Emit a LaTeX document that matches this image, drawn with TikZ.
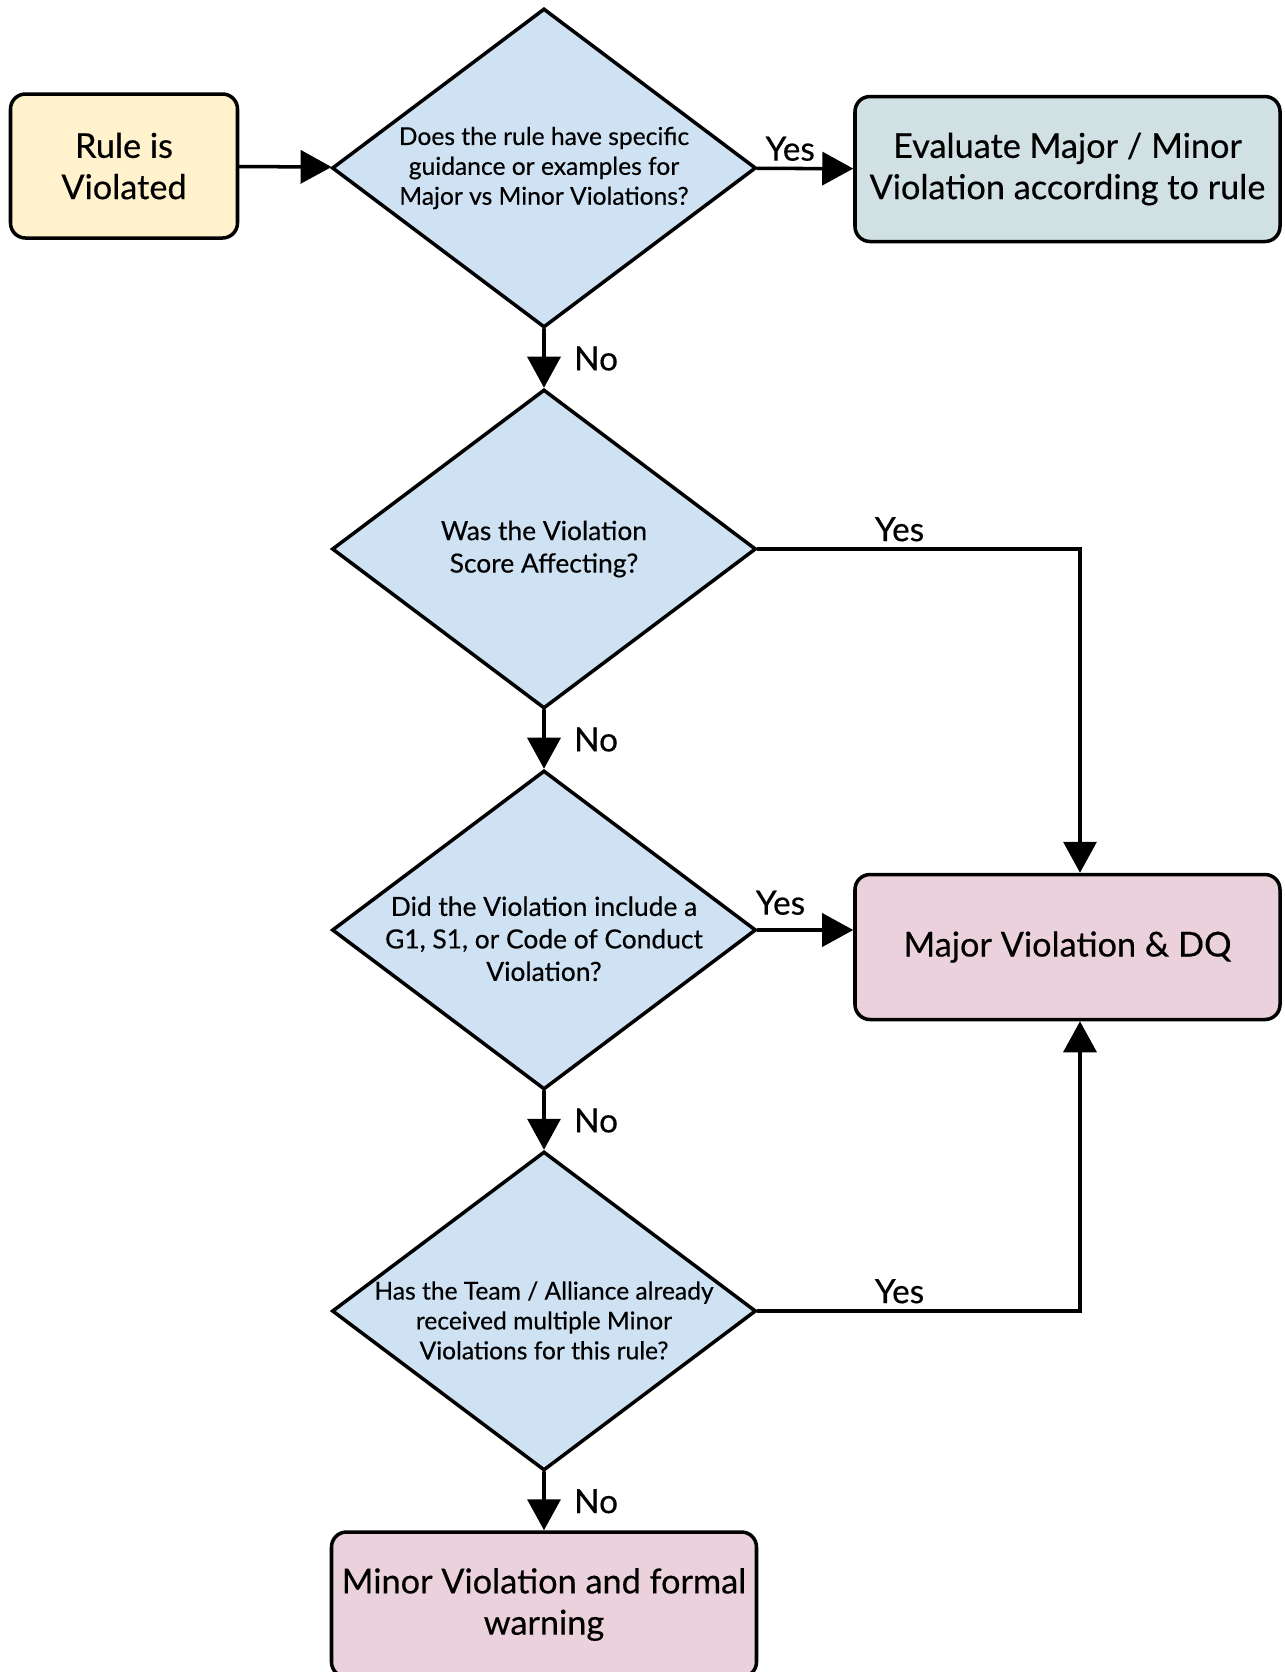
\documentclass[tikz,border=0pt]{standalone}
\usepackage{fontspec}
\setmainfont{Lato}[FakeBold=0.4]
\usetikzlibrary{arrows.meta,shapes.geometric}

\definecolor{ruleyellow}{HTML}{FFF2CC}
\definecolor{askblue}{HTML}{CFE2F3}
\definecolor{evalcyan}{HTML}{D0E0E3}
\definecolor{resultpink}{HTML}{EAD1DC}
% taller first line, so the text sits a little low in the diamond
\newcommand{\lowtext}{\rule{0pt}{0.74cm}}

\begin{document}
\begin{tikzpicture}[cap=round]
% Styles
\tikzstyle{box}=[draw,line width=2pt,rounded corners=0.3cm,minimum width=8.5cm,minimum height=2.9cm,align=center,font=\fontsize{19.5}{23.5}\selectfont]
\tikzstyle{question}=[draw,diamond,aspect=1.33,line width=2pt,fill=askblue,minimum width=8.48cm,minimum height=6.38cm,inner xsep=-0.7cm,inner ysep=0pt,align=center]
\tikzstyle{flow}=[line width=2pt,-{Triangle[length=0.62cm,width=0.66cm]}]
\tikzstyle{answer}=[font=\fontsize{19}{22}\selectfont]
\useasboundingbox (0,0) rectangle (25.7,-33.44);
% The graphic
\node[box,fill=ruleyellow,minimum width=4.54cm,minimum height=2.88cm] (rule) at (2.48,-3.32)
  {Rule is\\Violated};
\node[question,font=\fontsize{14}{17}\selectfont] (guidance) at (10.88,-3.36)
  {Does the rule have specific\\guidance or examples for\\Major vs Minor Violations?};
\node[box,fill=evalcyan] (evaluate) at (21.35,-3.38)
  {Evaluate Major / Minor\\Violation according to rule};
\node[question,font=\fontsize{15}{18.5}\selectfont] (score) at (10.88,-10.98)
  {Was the Violation\\Score Affecting?};
\node[question,font=\fontsize{15}{18.5}\selectfont] (conduct) at (10.88,-18.6)
  {\lowtext Did the Violation include a\\G1, S1, or Code of Conduct\\Violation?};
\node[question,font=\fontsize{14}{17}\selectfont] (repeat) at (10.88,-26.22)
  {\lowtext Has the Team / Alliance already\\received multiple Minor\\Violations for this rule?};
\node[box,fill=resultpink] (major) at (21.35,-18.94)
  {Major Violation \& DQ};
\node[box,fill=resultpink] (minor) at (10.88,-32.09)
  {Minor Violation and formal\\warning};
% connect them
\draw[flow] (rule) -- (guidance);
\draw[flow] (guidance) -- node[answer,above,xshift=-0.3cm] {Yes} (evaluate);
\draw[flow] (guidance) -- node[answer,right,xshift=0.45cm] {No} (score);
\draw[flow] (score) -- node[answer,right,xshift=0.45cm] {No} (conduct);
\draw[flow] (conduct) -- node[answer,right,xshift=0.45cm] {No} (repeat);
\draw[flow] (repeat) -- node[answer,right,xshift=0.45cm] {No} (minor);
\draw[flow] (conduct.east) -- node[answer,above,xshift=-0.5cm,yshift=0.15cm] {Yes} (conduct.east -| major.west);
\draw[flow] (score.east) -| node[answer,above,pos=0.22] {Yes} ([xshift=0.25cm]major.north);
\draw[flow] (repeat.east) -| node[answer,above,pos=0.22] {Yes} ([xshift=0.25cm]major.south);
\end{tikzpicture}
\end{document}
